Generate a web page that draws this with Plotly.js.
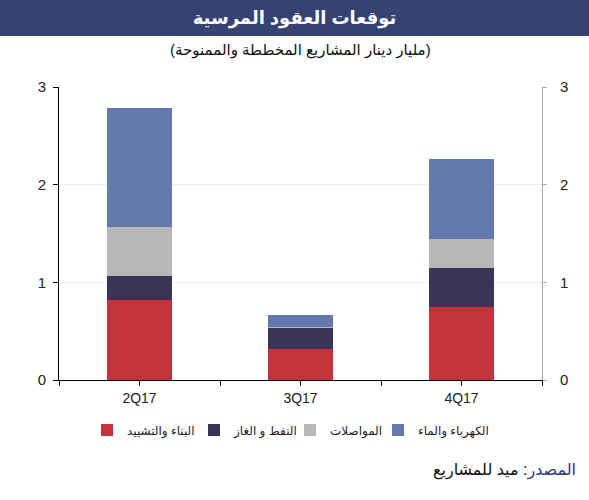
<!DOCTYPE html>
<html>
<head>
<meta charset="utf-8">
<script src="https://cdn.plot.ly/plotly-3.0.1.min.js"></script>
<style>html,body{margin:0;padding:0;background:#fff;}#chart{width:589px;height:500px;}</style>
</head>
<body>
<div id="chart"></div>
<script>
const categories = ['2Q17', '3Q17', '4Q17'];
const seriesNames = ['البناء والتشييد', 'النفط و الغاز', 'المواصلات', 'الكهرباء والماء'];
const construction = [0.82, 0.32, 0.75];
const oilGas = [0.245, 0.215, 0.40];
const transport = [0.505, 0.01, 0.29];
const powerWater = [1.21, 0.125, 0.82];
const yTicks = [0, 1, 2, 3];

const colors = ['#c4323a', '#3a3558', '#b8b8b8', '#6378ad'];
const values = [construction, oilGas, transport, powerWater];
const xIdx = categories.map((c, i) => i);
const legendIds = ['legend', 'legend2', 'legend3', 'legend4'];
const legendX = [87, 194, 290, 378];

const traces = values.map((v, k) => ({
  type: 'bar', x: xIdx, y: v, name: seriesNames[k], legend: legendIds[k],
  marker: {color: colors[k], line: {width: 0}},
  width: 0.4, hoverinfo: 'skip'
}));

const F = 'Liberation Sans, DejaVu Sans, Arial, sans-serif';
const xtv = [], xtt = [];
for (let i = 0; i < categories.length; i++) {
  xtv.push(i - 0.5, i); xtt.push('', categories[i]);
}
xtv.push(categories.length - 0.5); xtt.push('');

const layout = {
  width: 589, height: 500,
  margin: {l: 59, r: 47, t: 87, b: 120},
  paper_bgcolor: '#fff', plot_bgcolor: '#fff',
  barmode: 'stack', bargap: 0.6,
  font: {family: F, color: '#222', size: 14},
  showlegend: true,
  title: {text: 'توقعات العقود المرسية', font: {family: F, size: 18, color: '#fff', weight: 'bold'},
    x: 0.5, xanchor: 'center', y: 1 - 18 / 500, yanchor: 'middle'},
  xaxis: {type: 'linear', range: [-0.5, categories.length - 0.5], tickmode: 'array',
    tickvals: xtv, ticktext: xtt, showline: true, linecolor: '#000', linewidth: 1,
    ticks: 'outside', ticklen: 5, tickcolor: '#000', showgrid: false, zeroline: false,
    tickfont: {size: 14, color: '#222'}, fixedrange: true},
  yaxis: {range: [0, 3], tickvals: yTicks, showline: true, linecolor: '#000', linewidth: 1,
    ticks: 'outside', ticklen: 5, tickcolor: '#000', showgrid: true, gridcolor: '#eeeeee',
    zeroline: false, tickfont: {size: 15, color: '#222'}, ticklabelstandoff: 4, fixedrange: true},
  yaxis2: {range: [0, 3], tickvals: yTicks, overlaying: 'y', side: 'right', showline: true,
    linecolor: '#aaa', linewidth: 1, ticks: 'outside', ticklen: 4, tickcolor: '#aaa',
    showgrid: false, zeroline: false, tickfont: {size: 15, color: '#222'},
    ticklabelstandoff: 10, fixedrange: true},
  shapes: [{type: 'rect', xref: 'paper', yref: 'paper', x0: -59 / 483, x1: 1 + 47 / 483,
    y0: (380 - 36) / 293, y1: (380 + 2) / 293, fillcolor: '#364272', line: {width: 0}, layer: 'below'}],
  annotations: [
    {text: '(مليار دينار المشاريع المخططة والممنوحة)', xref: 'paper', yref: 'paper',
      x: 0.5, y: (380 - 50) / 293, xanchor: 'center', yanchor: 'middle', showarrow: false,
      font: {size: 15, color: '#111'}},
    {text: '<span style="color:#2c3785">المصدر</span>: ميد للمشاريع', xref: 'paper', yref: 'paper',
      x: (578 - 59) / 483, y: (380 - 470) / 293, xanchor: 'right', yanchor: 'middle', showarrow: false,
      font: {size: 16, color: '#111'}}
  ]
};

legendIds.forEach((id, k) => {
  layout[id] = {orientation: 'h', xref: 'container', yref: 'container', x: legendX[k] / 589,
    xanchor: 'left', y: 1 - 430 / 500, yanchor: 'middle', font: {size: 12, color: '#222'},
    itemwidth: 30, itemclick: false, bgcolor: 'rgba(0,0,0,0)'};
});

traces.push({type: 'scatter', x: [], y: [], yaxis: 'y2', showlegend: false, hoverinfo: 'skip'});

Plotly.newPlot('chart', traces, layout, {displayModeBar: false, staticPlot: true});
</script>
</body>
</html>
